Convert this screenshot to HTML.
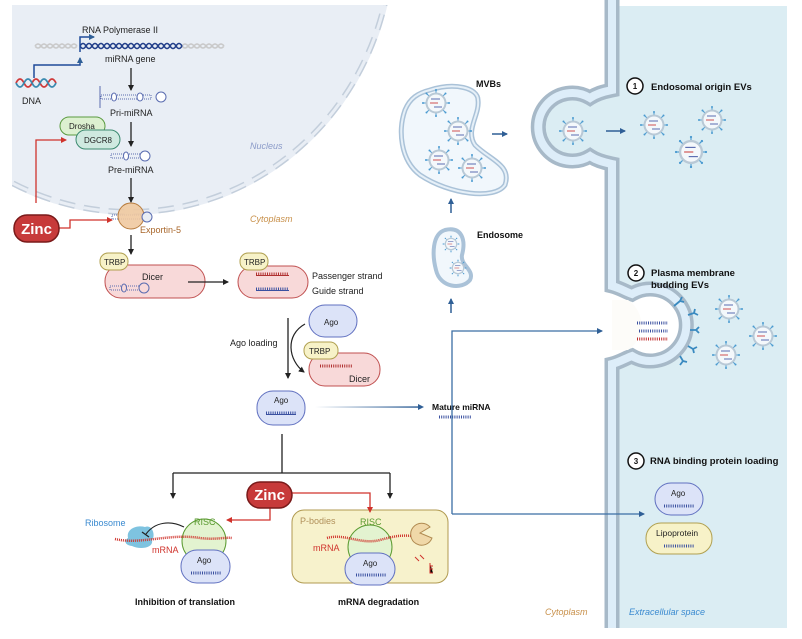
<!DOCTYPE html>
<html><head><meta charset="utf-8"><style>
html,body{margin:0;padding:0;background:#fff}
svg{display:block}
text{font-family:"Liberation Sans",sans-serif}
</style></head><body>
<svg width="802" height="639" viewBox="0 0 802 639" xmlns="http://www.w3.org/2000/svg">
<defs>
<clipPath id="nc"><rect x="12" y="5" width="380" height="260"/></clipPath>
<marker id="ak" markerWidth="6" markerHeight="6" refX="5" refY="3" orient="auto" markerUnits="userSpaceOnUse"><path d="M0,0 L6,3 L0,6Z" fill="#222"/></marker>
<marker id="ar" markerWidth="6" markerHeight="6" refX="5" refY="3" orient="auto" markerUnits="userSpaceOnUse"><path d="M0,0 L6,3 L0,6Z" fill="#d0332c"/></marker>
<marker id="ab" markerWidth="6" markerHeight="6" refX="5" refY="3" orient="auto" markerUnits="userSpaceOnUse"><path d="M0,0 L6,3 L0,6Z" fill="#2f5f96"/></marker>
<linearGradient id="gb" x1="315" x2="422" y1="0" y2="0" gradientUnits="userSpaceOnUse"><stop offset="0" stop-color="#2f5f96" stop-opacity="0"/><stop offset="1" stop-color="#2f5f96"/></linearGradient>
<g id="ev">
<g stroke="#4a9ad0" stroke-width="1" fill="none">
<line x1="0" y1="-10" x2="0" y2="-13"/><line x1="0" y1="10" x2="0" y2="13"/>
<line x1="-10" y1="0" x2="-13" y2="0"/><line x1="10" y1="0" x2="13" y2="0"/>
<line x1="7" y1="7" x2="9.5" y2="9.5"/><line x1="-7" y1="7" x2="-9.5" y2="9.5"/>
<line x1="7" y1="-7" x2="9.5" y2="-9.5"/><line x1="-7" y1="-7" x2="-9.5" y2="-9.5"/>
</g>
<g fill="#4a9ad0"><circle cx="0" cy="-13" r="1"/><circle cx="0" cy="13" r="1"/><circle cx="-13" cy="0" r="1"/><circle cx="13" cy="0" r="1"/><circle cx="9.5" cy="9.5" r="1"/><circle cx="-9.5" cy="-9.5" r="1"/><circle cx="9.5" cy="-9.5" r="1"/><circle cx="-9.5" cy="9.5" r="1"/></g>
<circle r="9.5" fill="#f4f8fb" stroke="#b9c9d6" stroke-width="2"/>
<line x1="-5" y1="-4" x2="4" y2="-4" stroke="#5a6cb0" stroke-width="1"/>
<line x1="-6" y1="0" x2="2" y2="0" stroke="#d05050" stroke-width="1"/>
<line x1="-2" y1="4" x2="6" y2="4" stroke="#5a6cb0" stroke-width="1"/>
</g>
</defs>

<!-- Nucleus -->
<g clip-path="url(#nc)">
<ellipse cx="130" cy="-60" rx="265" ry="275" fill="#e9eef5"/>
<ellipse cx="130" cy="-60" rx="262" ry="272" fill="none" stroke="#c3cedb" stroke-width="6" stroke-dasharray="16 9"/>
<ellipse cx="130" cy="-60" rx="262" ry="272" fill="none" stroke="#e9eef5" stroke-width="3" stroke-dasharray="16 9"/>
</g>

<!-- Extracellular -->
<path d="M612,6 H787 V628 H612 V364 C620,362 626,358 632,356 A36,36 0 1 0 632,294 C626,292 620,288 612,286 V164 C602,162 596,160 590,156 A34,34 0 1 1 590,98 C596,94 602,92 612,90 Z" fill="#dbedf3"/>
<path d="M612,0 V90 C602,92 596,94 590,98 A34,34 0 1 0 590,156 C596,160 602,162 612,164 V286 C620,288 626,292 632,294 A36,36 0 1 1 632,356 C626,358 620,362 612,364 V628" fill="none" stroke="#a7b9c8" stroke-width="15"/>
<path d="M612,0 V90 C602,92 596,94 590,98 A34,34 0 1 0 590,156 C596,160 602,162 612,164 V286 C620,288 626,292 632,294 A36,36 0 1 1 632,356 C626,358 620,362 612,364 V628" fill="none" stroke="#ddedf9" stroke-width="8"/>
<path d="M628,300 A30,30 0 0 1 628,350 L612,350 L612,300Z" fill="#fdfcf9"/>

<!-- DNA top -->
<path d="M35,46 q3,-4 6,0 t6,0 t6,0 t6,0 t6,0 t6,0 t6,0 M35,46 q3,4 6,0 t6,0 t6,0 t6,0 t6,0 t6,0 t6,0" stroke="#c9c9c9" fill="none" stroke-width="1.5"/>
<path d="M182,46 q3,-4 6,0 t6,0 t6,0 t6,0 t6,0 t6,0 t6,0 M182,46 q3,4 6,0 t6,0 t6,0 t6,0 t6,0 t6,0 t6,0" stroke="#c9c9c9" fill="none" stroke-width="1.5"/>
<path d="M80,46 q3,-5 6,0 t6,0 t6,0 t6,0 t6,0 t6,0 t6,0 t6,0 t6,0 t6,0 t6,0 t6,0 t6,0 t6,0 t6,0 t6,0 t6,0 M80,46 q3,5 6,0 t6,0 t6,0 t6,0 t6,0 t6,0 t6,0 t6,0 t6,0 t6,0 t6,0 t6,0 t6,0 t6,0 t6,0 t6,0 t6,0" stroke="#223f8a" fill="none" stroke-width="1.6"/>
<path d="M80,52 V37 H94" stroke="#1f4a9a" stroke-width="1.5" fill="none" marker-end="url(#ab)"/>
<text x="82" y="33" font-size="9" fill="#222">RNA Polymerase II</text>
<text x="105" y="62" font-size="9" fill="#222">miRNA gene</text>
<path d="M16,83 q4,-8 8,0 t8,0 t8,0 t8,0 t8,0" stroke="#d03a3a" fill="none" stroke-width="1.8"/>
<path d="M16,83 q4,8 8,0 t8,0 t8,0 t8,0 t8,0" stroke="#3a8ab0" fill="none" stroke-width="1.8"/>
<text x="22" y="104" font-size="9" fill="#222">DNA</text>
<path d="M34,78 V65 H80 V58" stroke="#1f4a9a" stroke-width="1.5" fill="none" marker-end="url(#ab)"/>

<!-- pri-miRNA -->
<line x1="131" y1="68" x2="131" y2="90" stroke="#222" stroke-width="1.3" marker-end="url(#ak)"/>
<line x1="100" y1="86" x2="100" y2="108" stroke="#5a6cb0" stroke-width="1"/>
<rect x="101" y="95" width="50" height="4" fill="none" stroke="#5a6cb0" stroke-width="1" stroke-dasharray="1 1"/>
<ellipse cx="114" cy="97" rx="2.5" ry="4" fill="#fff" stroke="#5a6cb0"/><ellipse cx="140" cy="97" rx="3" ry="4" fill="#fff" stroke="#5a6cb0"/>
<circle cx="161" cy="97" r="5" fill="#fff" stroke="#5a6cb0"/>
<text x="110" y="116" font-size="9" fill="#222">Pri-miRNA</text>
<rect x="60" y="117" width="45" height="18" rx="9" fill="#dcf0d0" stroke="#5a9a40"/>
<text x="69" y="129" font-size="8" fill="#222">Drosha</text>
<rect x="76" y="130" width="44" height="19" rx="9.5" fill="#cfe9e0" stroke="#3c8a70"/>
<text x="84" y="143" font-size="8" fill="#222">DGCR8</text>
<line x1="131" y1="122" x2="131" y2="146" stroke="#222" stroke-width="1.3" marker-end="url(#ak)"/>
<rect x="111" y="154" width="32" height="4" fill="none" stroke="#5a6cb0" stroke-dasharray="1 1"/>
<ellipse cx="126" cy="156" rx="2.5" ry="4" fill="#fff" stroke="#5a6cb0"/><circle cx="145" cy="156" r="5" fill="#fff" stroke="#5a6cb0"/>
<text x="108" y="173" font-size="9" fill="#222">Pre-miRNA</text>
<line x1="131" y1="178" x2="131" y2="202" stroke="#222" stroke-width="1.3" marker-end="url(#ak)"/>
<rect x="112" y="215" width="32" height="4" fill="none" stroke="#5a6cb0" stroke-dasharray="1 1"/>
<circle cx="131" cy="216" r="13" fill="#f0c9a0" stroke="#b77c3e" fill-opacity="0.9"/>
<circle cx="147" cy="217" r="5" fill="#e9eef5" stroke="#5a6cb0"/>
<text x="140" y="233" font-size="9" fill="#a8662a">Exportin-5</text>
<text x="250" y="149" font-size="9" font-style="italic" fill="#8a9ac8">Nucleus</text>
<text x="250" y="222" font-size="9" font-style="italic" fill="#c8904a">Cytoplasm</text>

<!-- Zinc 1 -->
<path d="M36,203 V140 H66" stroke="#d0332c" stroke-width="1.3" fill="none" marker-end="url(#ar)"/>
<path d="M58,228 H70 V220 H112" stroke="#d0332c" stroke-width="1.3" fill="none" marker-end="url(#ar)"/>
<rect x="14" y="215" width="45" height="27" rx="13" fill="#c73a3a" stroke="#7a1a1a" stroke-width="1.5"/>
<text x="36.5" y="234" font-size="15" font-weight="bold" fill="#fff" text-anchor="middle">Zinc</text>

<line x1="131" y1="235" x2="131" y2="254" stroke="#222" stroke-width="1.3" marker-end="url(#ak)"/>
<!-- Dicer 1 -->
<rect x="105" y="265" width="100" height="33" rx="16" fill="#f8d9d9" stroke="#c05050"/>
<rect x="100" y="253" width="28" height="17" rx="8" fill="#f7f2c8" stroke="#b0a050"/>
<text x="104" y="265" font-size="8" fill="#222">TRBP</text>
<text x="142" y="280" font-size="9" fill="#222">Dicer</text>
<rect x="110" y="286" width="30" height="4" fill="none" stroke="#5a6cb0" stroke-dasharray="1 1"/>
<ellipse cx="124" cy="288" rx="2.5" ry="4" fill="#f8d9d9" stroke="#5a6cb0"/><circle cx="144" cy="288" r="5" fill="#f8d9d9" stroke="#5a6cb0"/>
<line x1="188" y1="282" x2="228" y2="282" stroke="#222" stroke-width="1.3" marker-end="url(#ak)"/>
<!-- Dicer 2 -->
<rect x="238" y="266" width="70" height="32" rx="16" fill="#f8d9d9" stroke="#c05050"/>
<rect x="240" y="253" width="28" height="17" rx="8" fill="#f7f2c8" stroke="#b0a050"/>
<text x="244" y="265" font-size="8" fill="#222">TRBP</text>
<line x1="256" y1="274" x2="289" y2="274" stroke="#b03030" stroke-width="3" stroke-dasharray="1 1.2"/><line x1="256" y1="275.5" x2="289" y2="275.5" stroke="#b03030"/>
<line x1="256" y1="289" x2="289" y2="289" stroke="#3a50a0" stroke-width="3" stroke-dasharray="1 1.2"/><line x1="256" y1="290.5" x2="289" y2="290.5" stroke="#3a50a0"/>
<text x="312" y="279" font-size="9" fill="#222">Passenger strand</text>
<text x="312" y="294" font-size="9" fill="#222">Guide strand</text>

<!-- Ago loading -->
<line x1="288" y1="318" x2="288" y2="378" stroke="#222" stroke-width="1.3" marker-end="url(#ak)"/>
<path d="M305,324 C285,335 288,360 304,372" stroke="#222" stroke-width="1.2" fill="none" marker-end="url(#ak)"/>
<text x="230" y="346" font-size="9" fill="#222">Ago loading</text>
<rect x="309" y="305" width="48" height="32" rx="16" fill="#dce3f8" stroke="#6070c0"/>
<text x="324" y="325" font-size="8" fill="#222">Ago</text>
<rect x="309" y="353" width="71" height="33" rx="16" fill="#f8d9d9" stroke="#c05050"/>
<rect x="304" y="342" width="34" height="17" rx="8" fill="#f7f2c8" stroke="#b0a050"/>
<text x="309" y="354" font-size="8" fill="#222">TRBP</text>
<line x1="320" y1="366" x2="352" y2="366" stroke="#b03030" stroke-width="3" stroke-dasharray="1 1.2"/>
<text x="349" y="382" font-size="9" fill="#222">Dicer</text>

<rect x="257" y="391" width="48" height="34" rx="16" fill="#dce3f8" stroke="#6070c0"/>
<text x="274" y="403" font-size="8" fill="#222">Ago</text>
<line x1="266" y1="413" x2="296" y2="413" stroke="#3a50a0" stroke-width="3" stroke-dasharray="1 1.2"/><line x1="266" y1="414.5" x2="296" y2="414.5" stroke="#3a50a0"/>
<rect x="315" y="406.3" width="105" height="1.5" fill="url(#gb)"/>
<path d="M418,404 L424,407 L418,410Z" fill="#2f5f96"/>
<text x="432" y="410" font-size="8.5" font-weight="bold" fill="#111">Mature miRNA</text>
<line x1="439" y1="417" x2="471" y2="417" stroke="#3a50a0" stroke-width="3" stroke-dasharray="1 1.2"/>

<!-- blue L lines -->
<path d="M452,514 V331 H602" stroke="#3b6ea5" stroke-width="1.3" fill="none" marker-end="url(#ab)"/>
<path d="M452,514 H644" stroke="#3b6ea5" stroke-width="1.3" fill="none" marker-end="url(#ab)"/>
<line x1="451" y1="313" x2="451" y2="299" stroke="#2f5f96" stroke-width="1.5" marker-end="url(#ab)"/>
<line x1="451" y1="213" x2="451" y2="199" stroke="#2f5f96" stroke-width="1.5" marker-end="url(#ab)"/>
<line x1="492" y1="134" x2="507" y2="134" stroke="#2f5f96" stroke-width="1.5" marker-end="url(#ab)"/>
<line x1="606" y1="131" x2="625" y2="131" stroke="#2f5f96" stroke-width="1.5" marker-end="url(#ab)"/>

<!-- split -->
<path d="M282,434 V473 M173,473 H390" stroke="#222" stroke-width="1.3" fill="none"/>
<line x1="173" y1="473" x2="173" y2="498" stroke="#222" stroke-width="1.3" marker-end="url(#ak)"/>
<line x1="390" y1="473" x2="390" y2="498" stroke="#222" stroke-width="1.3" marker-end="url(#ak)"/>

<!-- P-bodies -->
<rect x="292" y="510" width="156" height="73" rx="12" fill="#f7f2cc" stroke="#b09a50"/>
<text x="300" y="524" font-size="9" fill="#b0905a">P-bodies</text>
<circle cx="370" cy="547" r="22" fill="#e3f3d0" stroke="#5a9a30"/>
<text x="360" y="525" font-size="9" fill="#5a9a30">RISC</text>
<path d="M327,538 C345,533 360,545 380,540 C395,536 400,535 412,536" stroke="#d0332c" stroke-width="2.5" fill="none" stroke-dasharray="1 1"/>
<text x="313" y="551" font-size="9" fill="#d0332c">mRNA</text>
<path d="M432,538 A11,11 0 1 1 430,527 L420,533Z" fill="#f0d8a8" stroke="#b08a50"/>
<path d="M415,557 l4,4 M420,555 l4,4 M430,563 v10 h3 M430,566 h3 M430,569 h3" stroke="#d0332c" stroke-width="1"/>
<rect x="345" y="553" width="50" height="32" rx="16" fill="#dce3f8" stroke="#6070c0"/>
<text x="363" y="566" font-size="8" fill="#222">Ago</text>
<line x1="356" y1="575" x2="386" y2="575" stroke="#3a50a0" stroke-width="3" stroke-dasharray="1 1.2"/>
<text x="338" y="605" font-size="9" font-weight="bold" fill="#111">mRNA degradation</text>

<!-- translation -->
<path d="M128,538 C126,528 138,525 145,527 C152,524 156,535 152,540 C154,548 140,550 132,546 C124,545 124,540 128,538Z" fill="#7ec3e0"/>
<text x="85" y="526" font-size="9" fill="#3a8ad0">Ribosome</text>
<circle cx="204" cy="541" r="22" fill="#e3f3d0" stroke="#5a9a30"/>
<text x="194" y="525" font-size="9" fill="#5a9a30">RISC</text>
<path d="M184,527 C170,520 155,522 146,534" stroke="#222" stroke-width="1.1" fill="none"/>
<line x1="142" y1="532" x2="149" y2="537" stroke="#222" stroke-width="1.3"/>
<path d="M115,539 C140,545 170,533 200,538 C215,540 225,537 232,538" stroke="#d0332c" stroke-width="2.5" fill="none" stroke-dasharray="1 1"/>
<text x="152" y="553" font-size="9" fill="#d0332c">mRNA</text>
<rect x="181" y="550" width="49" height="33" rx="16" fill="#dce3f8" stroke="#6070c0"/>
<text x="197" y="563" font-size="8" fill="#222">Ago</text>
<line x1="191" y1="573" x2="221" y2="573" stroke="#3a50a0" stroke-width="3" stroke-dasharray="1 1.2"/>
<text x="135" y="605" font-size="9" font-weight="bold" fill="#111">Inhibition of translation</text>

<!-- Zinc 2 -->
<path d="M270,505 V520 H227" stroke="#d0332c" stroke-width="1.3" fill="none" marker-end="url(#ar)"/>
<path d="M290,493 H370 V512" stroke="#d0332c" stroke-width="1.3" fill="none" marker-end="url(#ar)"/>
<rect x="247" y="482" width="45" height="26" rx="13" fill="#c73a3a" stroke="#7a1a1a" stroke-width="1.5"/>
<text x="269.5" y="500" font-size="15" font-weight="bold" fill="#fff" text-anchor="middle">Zinc</text>

<!-- MVB -->
<path d="M430,90 C455,82 478,88 478,100 C480,115 465,130 475,145 C490,160 512,165 505,185 C495,200 450,195 420,175 C400,160 398,130 405,110 C410,98 418,93 430,90Z" fill="#f1f7fc" stroke="#aac2d8" stroke-width="5"/>
<path d="M430,90 C455,82 478,88 478,100 C480,115 465,130 475,145 C490,160 512,165 505,185 C495,200 450,195 420,175 C400,160 398,130 405,110 C410,98 418,93 430,90Z" fill="none" stroke="#e6f0f8" stroke-width="2"/>
<use href="#ev" x="436" y="103"/><use href="#ev" x="458" y="131"/><use href="#ev" x="439" y="160"/><use href="#ev" x="472" y="168"/>
<text x="476" y="87" font-size="9" font-weight="bold" fill="#111">MVBs</text>
<!-- Endosome -->
<path d="M445,230 C462,226 466,240 462,255 C460,265 475,270 470,280 C462,290 440,288 436,270 C432,255 432,234 445,230Z" fill="#f1f7fc" stroke="#aac2d8" stroke-width="4"/>
<use href="#ev" transform="translate(451 244) scale(0.6)"/>
<use href="#ev" transform="translate(458 268) scale(0.6)"/>
<text x="477" y="238" font-size="9" font-weight="bold" fill="#111">Endosome</text>

<!-- EVs extracellular -->
<use href="#ev" x="573" y="131"/>
<use href="#ev" x="654" y="125"/><use href="#ev" x="712" y="120"/><use href="#ev" transform="translate(691 152) scale(1.15)"/>
<use href="#ev" x="729" y="309"/><use href="#ev" x="763" y="336"/><use href="#ev" x="726" y="355"/>
<g stroke="#3a50a0" stroke-width="3" stroke-dasharray="1 1.2"><line x1="637" y1="323" x2="668" y2="323"/><line x1="639" y1="331" x2="668" y2="331"/></g>
<line x1="637" y1="339" x2="668" y2="339" stroke="#c03030" stroke-width="3" stroke-dasharray="1 1.2"/>
<g stroke="#3a8ac0" stroke-width="1.8" fill="none">
<path d="M674,306 l6,-5 M680,301 l2,-4 M680,301 l4,1"/><path d="M688,315 l6,-2 M694,313 l1,-4 M694,313 l4,2"/>
<path d="M690,330 l6,0 M696,330 l3,-3 M696,330 l3,3"/><path d="M688,346 l5,3 M693,349 l4,-2 M693,349 l1,4"/>
<path d="M680,356 l3,5 M683,361 l-3,4 M683,361 l4,1"/>
</g>

<!-- numbered -->
<g fill="#fff" stroke="#111" stroke-width="1.5"><circle cx="635" cy="86" r="8"/><circle cx="636" cy="273" r="8"/><circle cx="636" cy="461" r="8"/></g>
<g font-size="8" font-weight="bold" text-anchor="middle" fill="#111"><text x="635" y="89">1</text><text x="636" y="276">2</text><text x="636" y="464">3</text></g>
<g font-size="9.5" font-weight="bold" fill="#111">
<text x="651" y="90">Endosomal origin EVs</text>
<text x="651" y="276">Plasma membrane</text><text x="651" y="288">budding EVs</text>
<text x="650" y="464">RNA binding protein loading</text></g>
<rect x="655" y="483" width="48" height="32" rx="16" fill="#dce3f8" stroke="#6070c0"/>
<text x="671" y="496" font-size="8" fill="#222">Ago</text>
<line x1="664" y1="506" x2="694" y2="506" stroke="#3a50a0" stroke-width="3" stroke-dasharray="1 1.2"/>
<rect x="646" y="523" width="66" height="31" rx="15" fill="#f7f2c8" stroke="#b0a050"/>
<text x="656" y="536" font-size="8.5" fill="#222">Lipoprotein</text>
<line x1="664" y1="546" x2="694" y2="546" stroke="#3a50a0" stroke-width="3" stroke-dasharray="1 1.2"/>

<text x="545" y="615" font-size="9" font-style="italic" fill="#c8904a">Cytoplasm</text>
<text x="629" y="615" font-size="9" font-style="italic" fill="#3a8ad0">Extracellular space</text>
</svg>
</body></html>
